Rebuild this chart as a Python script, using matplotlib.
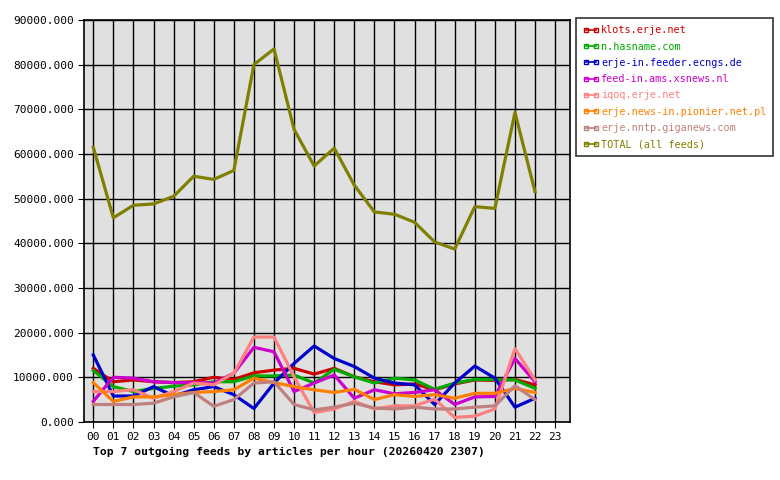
import matplotlib
matplotlib.use("Agg")
import matplotlib.pyplot as plt
from matplotlib.lines import Line2D
from matplotlib.ticker import FuncFormatter

hours = list(range(23))
hour_labels = ["%02d" % h for h in range(24)]

names = ["klots.erje.net", "n.hasname.com", "erje-in.feeder.ecngs.de",
         "feed-in.ams.xsnews.nl", "iqoq.erje.net", "erje.news-in.pionier.net.pl",
         "erje.nntp.giganews.com", "TOTAL (all feeds)"]
colors = ["#cc0000", "#00aa00", "#0000cc", "#cc00cc", "#ff8080", "#ff8000",
          "#c08080", "#808000"]

klots = [12000, 9000, 9400, 9000, 8800, 9000, 10000, 9500, 11000, 11600, 12000, 10700,
         12000, 10100, 9000, 8300, 8500, 7200, 8500, 9400, 9300, 9500, 8300]
hasname = [11500, 7900, 6800, 7500, 8000, 8300, 9000, 9000, 10300, 10300, 10500, 8700,
           11800, 10100, 8700, 9800, 9400, 7300, 8700, 9500, 9500, 9400, 7500]
ecngs = [15000, 5800, 5800, 7900, 5800, 7200, 7900, 6100, 3000, 8700, 13100, 17000,
         14200, 12400, 9800, 8700, 8300, 3900, 8700, 12500, 9800, 3300, 5300]
xsnews = [4600, 10000, 9800, 9000, 8800, 8800, 8700, 10900, 16700, 15700, 6800, 8700,
          10500, 5300, 7200, 6300, 6600, 7200, 3900, 5600, 5700, 14200, 9000]
iqoq = [6800, 6800, 7200, 5300, 6800, 8700, 8300, 10900, 19000, 19000, 10100, 2100,
        2900, 4600, 2900, 3600, 3600, 5100, 1000, 1300, 2900, 16400, 9400]
pionier = [8800, 4600, 5600, 5600, 6100, 6600, 6800, 7200, 9800, 8800, 7900, 7200,
           6600, 7300, 5000, 6100, 5700, 6100, 5300, 6400, 6400, 7500, 6600]
giganews = [3900, 3900, 3900, 4200, 5600, 6600, 3500, 5000, 8700, 9000, 3900, 2700,
            3300, 4200, 3100, 2900, 3300, 2900, 2900, 3300, 3600, 8100, 5000]
total = [61500, 45700, 48500, 48800, 50500, 55000, 54300, 56300, 80000, 83500, 65500,
         57300, 61300, 53000, 47000, 46500, 44700, 40300, 38700, 48200, 47800, 69300, 51500]

series = [klots, hasname, ecngs, xsnews, iqoq, pionier, giganews, total]

plt.rcParams['font.family'] = ['DejaVu Sans Mono']
plt.rcParams['font.size'] = 8

fig = plt.figure(figsize=(7.8, 4.8), dpi=100)
ax = fig.add_axes([0.108, 0.121, 0.623, 0.8375])
ax.set_facecolor("#e0e0e0")

for vals, c, n in zip(series, colors, names):
    ax.plot(hours, vals, color=c, lw=2.3, label=n)

ax.set_xlim(-0.45, 23.75)
ax.set_ylim(0, 90000)
ax.set_xticks(range(24))
ax.set_xticklabels(hour_labels)
ax.set_yticks(range(0, 90001, 10000))
ax.yaxis.set_major_formatter(FuncFormatter(lambda v, p: "%.3f" % v))
ax.grid(True, color="black", lw=1)
ax.set_axisbelow(True)
ax.tick_params(direction="out", length=4, color="black")
for s in ax.spines.values():
    s.set_linewidth(1.2)

# legend samples: thin line with a small square marker, like the original
handles = [Line2D([], [], color=c, lw=1.2, marker="s", markersize=2.5,
                  markerfacecolor="none", markevery=[1]) for c in colors]
leg = fig.legend(handles, names, loc="upper left", bbox_to_anchor=(0.738, 0.962),
                 frameon=True, fancybox=False, edgecolor="black", handlelength=1.6,
                 handletextpad=0.2, labelspacing=0.62, borderpad=0.7, fontsize=7.3,
                 borderaxespad=0, numpoints=2)
leg.get_frame().set_linewidth(1.2)
for t, c in zip(leg.get_texts(), colors):
    t.set_color(c)

fig.text(0.119, 0.052, "Top 7 outgoing feeds by articles per hour (20260420 2307)",
         fontsize=8.2, fontweight="bold")

fig.savefig("out.png", dpi=100)
